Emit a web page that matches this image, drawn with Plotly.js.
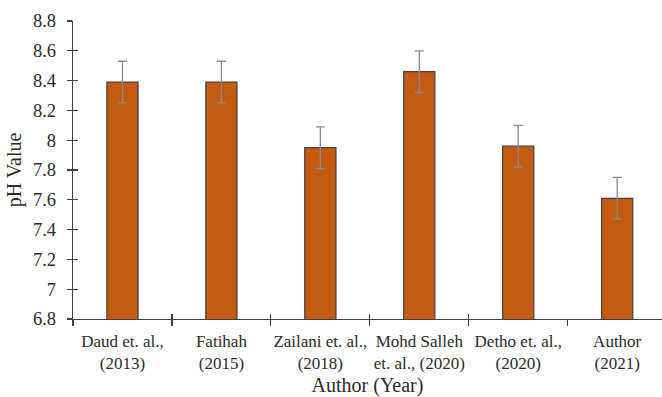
<!DOCTYPE html>
<html>
<head>
<meta charset="utf-8">
<script src="https://cdn.plot.ly/plotly-3.0.1.min.js"></script>
<style>
  html, body { margin: 0; padding: 0; background: #fff; }
  #chart { width: 662px; height: 397px; }
</style>
</head>
<body>
<div id="chart"></div>
<script>
// pH values reported by each study, with their error margins
const studies = [
  'Daud et. al.,<br>(2013)',
  'Fatihah<br>(2015)',
  'Zailani et. al.,<br>(2018)',
  'Mohd Salleh<br>et. al., (2020)',
  'Detho et. al.,<br>(2020)',
  'Author<br>(2021)'
];
const phValues = [8.39, 8.39, 7.95, 8.46, 7.96, 7.61];
const phErrors = [0.14, 0.14, 0.14, 0.14, 0.14, 0.14];
const yTicks = [6.8, 7, 7.2, 7.4, 7.6, 7.8, 8, 8.2, 8.4, 8.6, 8.8];

const barColor = '#C55A11';
const axisColor = '#404040';
const textColor = '#2b2b2b';
const serif = "'Liberation Serif', 'Times New Roman', serif";

const n = studies.length;
const xMax = n - 0.547;            // right end of the drawn axis
const boundaries = [];
for (let i = 0; i < n - 1; i++) boundaries.push(i - 0.5);

const trace = {
  type: 'bar',
  x: studies,
  y: phValues,
  width: 0.315,
  marker: { color: barColor, line: { color: axisColor, width: 1.2 } },
  error_y: {
    type: 'data', array: phErrors, visible: true,
    color: '#8a8a8a', thickness: 1.3, width: 4.5
  },
  hoverinfo: 'x+y'
};

const layout = {
  width: 662, height: 397,
  margin: { l: 73, r: 0, t: 21, b: 78 },
  paper_bgcolor: '#fff', plot_bgcolor: '#fff',
  showlegend: false,
  font: { family: serif, color: textColor, size: 18 },
  xaxis: {
    type: 'category',
    range: [-0.5, xMax],
    showline: true, linecolor: axisColor, linewidth: 1.2,
    ticks: 'outside', ticklen: 6, tickcolor: axisColor, tickwidth: 1.2,
    tickson: 'boundaries',
    tickangle: 0,
    ticklabelstandoff: 6,
    tickfont: { family: serif, size: 17, color: textColor },
    showgrid: false, zeroline: false,
    title: { text: 'Author (Year)', font: { family: serif, size: 20, color: textColor }, standoff: 12 }
  },
  xaxis2: {
    overlaying: 'x', anchor: 'y', side: 'bottom',
    range: [-0.5, xMax],
    tickmode: 'array', tickvals: boundaries,
    ticks: 'inside', ticklen: 5, tickcolor: axisColor, tickwidth: 1.2,
    showticklabels: false, showline: false, showgrid: false, zeroline: false
  },
  yaxis: {
    range: [6.8, 8.8],
    tickmode: 'array', tickvals: yTicks, ticktext: yTicks.map(String),
    showline: true, linecolor: axisColor, linewidth: 1.2,
    ticks: 'outside', ticklen: 5, tickcolor: axisColor, tickwidth: 1.2,
    ticklabelstandoff: 7,
    tickfont: { family: serif, size: 18.5, color: textColor },
    showgrid: false, zeroline: false,
    title: { text: 'pH Value', font: { family: serif, size: 20, color: textColor }, standoff: 6 }
  },
  yaxis2: {
    overlaying: 'y', anchor: 'x', side: 'left',
    range: [6.8, 8.8],
    tickmode: 'array', tickvals: yTicks,
    ticks: 'inside', ticklen: 5, tickcolor: axisColor, tickwidth: 1.2,
    showticklabels: false, showline: false, showgrid: false, zeroline: false
  }
};

// invisible helper trace so the overlay axes get drawn
const helper = {
  type: 'scatter', x: [0], y: [7], xaxis: 'x2', yaxis: 'y2',
  mode: 'markers', marker: { opacity: 0 }, hoverinfo: 'skip'
};

Plotly.newPlot('chart', [trace, helper], layout, { displayModeBar: false, staticPlot: true });
</script>
</body>
</html>
